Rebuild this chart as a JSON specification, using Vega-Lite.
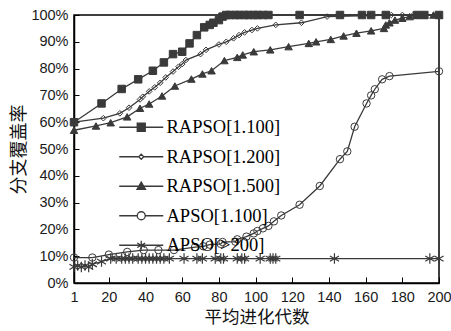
{
  "$schema": "https://vega.github.io/schema/vega-lite/v6.json",
  "width": 365,
  "height": 268,
  "autosize": {"type": "none"},
  "padding": {"left": 74, "top": 15, "right": 12, "bottom": 48},
  "background": "white",
  "config": {
    "view": {"stroke": "black", "strokeWidth": 1.5},
    "axis": {
      "grid": false,
      "domainColor": "black",
      "domainWidth": 1.5,
      "tickColor": "black",
      "tickWidth": 1,
      "labelFont": "Liberation Sans",
      "labelFontSize": 14.5,
      "labelColor": "#1a1a1a",
      "titleFont": "Noto Sans CJK SC",
      "titleFontSize": 18,
      "titleFontWeight": "normal",
      "titleColor": "#111"
    },
    "legend": {
      "orient": "none",
      "legendX": 58,
      "legendY": 103,
      "title": null,
      "padding": 0,
      "labelFont": "Liberation Serif",
      "labelFontSize": 18.5,
      "labelColor": "black",
      "labelLimit": 300,
      "labelOffset": 16,
      "symbolSize": 100,
      "symbolStrokeWidth": 1.3,
      "symbolOpacity": 1,
      "rowPadding": 10.5
    }
  },
  "datasets": {
    "d": [
      {"series": "RAPSO[1.100]", "gen": 1, "cov": 60},
      {"series": "RAPSO[1.100]", "gen": 16, "cov": 67},
      {"series": "RAPSO[1.100]", "gen": 27, "cov": 72.4},
      {"series": "RAPSO[1.100]", "gen": 36, "cov": 76},
      {"series": "RAPSO[1.100]", "gen": 44, "cov": 79.2},
      {"series": "RAPSO[1.100]", "gen": 50, "cov": 82.3},
      {"series": "RAPSO[1.100]", "gen": 55, "cov": 85.4},
      {"series": "RAPSO[1.100]", "gen": 60, "cov": 86.3},
      {"series": "RAPSO[1.100]", "gen": 64, "cov": 89.4},
      {"series": "RAPSO[1.100]", "gen": 68, "cov": 92.5},
      {"series": "RAPSO[1.100]", "gen": 72, "cov": 95.4},
      {"series": "RAPSO[1.100]", "gen": 75, "cov": 96.3},
      {"series": "RAPSO[1.100]", "gen": 77, "cov": 97.1},
      {"series": "RAPSO[1.100]", "gen": 80, "cov": 98.1},
      {"series": "RAPSO[1.100]", "gen": 82, "cov": 99.4},
      {"series": "RAPSO[1.100]", "gen": 84, "cov": 100},
      {"series": "RAPSO[1.100]", "gen": 86, "cov": 100},
      {"series": "RAPSO[1.100]", "gen": 89, "cov": 100},
      {"series": "RAPSO[1.100]", "gen": 91, "cov": 100},
      {"series": "RAPSO[1.100]", "gen": 94, "cov": 100},
      {"series": "RAPSO[1.100]", "gen": 96, "cov": 100},
      {"series": "RAPSO[1.100]", "gen": 99, "cov": 100},
      {"series": "RAPSO[1.100]", "gen": 101, "cov": 100},
      {"series": "RAPSO[1.100]", "gen": 104, "cov": 100},
      {"series": "RAPSO[1.100]", "gen": 107, "cov": 100},
      {"series": "RAPSO[1.100]", "gen": 124, "cov": 100},
      {"series": "RAPSO[1.100]", "gen": 146, "cov": 100},
      {"series": "RAPSO[1.100]", "gen": 158, "cov": 100},
      {"series": "RAPSO[1.100]", "gen": 163, "cov": 100},
      {"series": "RAPSO[1.100]", "gen": 171, "cov": 100},
      {"series": "RAPSO[1.100]", "gen": 188, "cov": 100},
      {"series": "RAPSO[1.100]", "gen": 192, "cov": 100},
      {"series": "RAPSO[1.100]", "gen": 200, "cov": 100},

      {"series": "RAPSO[1.200]", "gen": 1, "cov": 60},
      {"series": "RAPSO[1.200]", "gen": 17, "cov": 61.5},
      {"series": "RAPSO[1.200]", "gen": 26, "cov": 63.3},
      {"series": "RAPSO[1.200]", "gen": 31, "cov": 65.4},
      {"series": "RAPSO[1.200]", "gen": 37, "cov": 68.5},
      {"series": "RAPSO[1.200]", "gen": 38.5, "cov": 69.5},
      {"series": "RAPSO[1.200]", "gen": 42, "cov": 71.5},
      {"series": "RAPSO[1.200]", "gen": 45, "cov": 73},
      {"series": "RAPSO[1.200]", "gen": 48, "cov": 74.7},
      {"series": "RAPSO[1.200]", "gen": 51, "cov": 76.7},
      {"series": "RAPSO[1.200]", "gen": 55, "cov": 78.9},
      {"series": "RAPSO[1.200]", "gen": 58, "cov": 80.7},
      {"series": "RAPSO[1.200]", "gen": 60, "cov": 81.7},
      {"series": "RAPSO[1.200]", "gen": 62, "cov": 83.2},
      {"series": "RAPSO[1.200]", "gen": 70, "cov": 85.4},
      {"series": "RAPSO[1.200]", "gen": 73, "cov": 87},
      {"series": "RAPSO[1.200]", "gen": 80, "cov": 89},
      {"series": "RAPSO[1.200]", "gen": 84, "cov": 90},
      {"series": "RAPSO[1.200]", "gen": 88, "cov": 91.3},
      {"series": "RAPSO[1.200]", "gen": 91, "cov": 92.5},
      {"series": "RAPSO[1.200]", "gen": 94, "cov": 93.5},
      {"series": "RAPSO[1.200]", "gen": 98, "cov": 94.4},
      {"series": "RAPSO[1.200]", "gen": 101, "cov": 95},
      {"series": "RAPSO[1.200]", "gen": 111, "cov": 96.3},
      {"series": "RAPSO[1.200]", "gen": 125, "cov": 97.1},
      {"series": "RAPSO[1.200]", "gen": 139, "cov": 99.4},
      {"series": "RAPSO[1.200]", "gen": 174, "cov": 100},
      {"series": "RAPSO[1.200]", "gen": 180, "cov": 100},
      {"series": "RAPSO[1.200]", "gen": 186, "cov": 100},
      {"series": "RAPSO[1.200]", "gen": 200, "cov": 100},

      {"series": "RAPSO[1.500]", "gen": 1, "cov": 57},
      {"series": "RAPSO[1.500]", "gen": 13, "cov": 58.6},
      {"series": "RAPSO[1.500]", "gen": 21, "cov": 59.8},
      {"series": "RAPSO[1.500]", "gen": 30, "cov": 62},
      {"series": "RAPSO[1.500]", "gen": 37, "cov": 65.2},
      {"series": "RAPSO[1.500]", "gen": 42, "cov": 66.8},
      {"series": "RAPSO[1.500]", "gen": 49, "cov": 69.8},
      {"series": "RAPSO[1.500]", "gen": 56, "cov": 73.5},
      {"series": "RAPSO[1.500]", "gen": 65, "cov": 76.1},
      {"series": "RAPSO[1.500]", "gen": 71, "cov": 78},
      {"series": "RAPSO[1.500]", "gen": 76, "cov": 79.2},
      {"series": "RAPSO[1.500]", "gen": 83, "cov": 83},
      {"series": "RAPSO[1.500]", "gen": 90, "cov": 84.2},
      {"series": "RAPSO[1.500]", "gen": 93, "cov": 85.1},
      {"series": "RAPSO[1.500]", "gen": 99, "cov": 86.3},
      {"series": "RAPSO[1.500]", "gen": 108, "cov": 87},
      {"series": "RAPSO[1.500]", "gen": 118, "cov": 88.2},
      {"series": "RAPSO[1.500]", "gen": 129, "cov": 89.4},
      {"series": "RAPSO[1.500]", "gen": 133, "cov": 90},
      {"series": "RAPSO[1.500]", "gen": 141, "cov": 90.9},
      {"series": "RAPSO[1.500]", "gen": 148, "cov": 92.2},
      {"series": "RAPSO[1.500]", "gen": 155, "cov": 93.2},
      {"series": "RAPSO[1.500]", "gen": 163, "cov": 94.1},
      {"series": "RAPSO[1.500]", "gen": 170, "cov": 95},
      {"series": "RAPSO[1.500]", "gen": 171, "cov": 96.3},
      {"series": "RAPSO[1.500]", "gen": 173, "cov": 97.1},
      {"series": "RAPSO[1.500]", "gen": 176, "cov": 98.1},
      {"series": "RAPSO[1.500]", "gen": 180, "cov": 98.8},
      {"series": "RAPSO[1.500]", "gen": 184, "cov": 99.4},
      {"series": "RAPSO[1.500]", "gen": 188, "cov": 100},
      {"series": "RAPSO[1.500]", "gen": 192, "cov": 100},
      {"series": "RAPSO[1.500]", "gen": 197, "cov": 100},
      {"series": "RAPSO[1.500]", "gen": 200, "cov": 100},

      {"series": "APSO[1.100]", "gen": 1, "cov": 9.5},
      {"series": "APSO[1.100]", "gen": 11, "cov": 9.5},
      {"series": "APSO[1.100]", "gen": 20, "cov": 10.6},
      {"series": "APSO[1.100]", "gen": 30, "cov": 11.6},
      {"series": "APSO[1.100]", "gen": 39, "cov": 12.3},
      {"series": "APSO[1.100]", "gen": 47, "cov": 12.3},
      {"series": "APSO[1.100]", "gen": 55.5, "cov": 12.3},
      {"series": "APSO[1.100]", "gen": 67, "cov": 13.4},
      {"series": "APSO[1.100]", "gen": 71.5, "cov": 13.7},
      {"series": "APSO[1.100]", "gen": 75, "cov": 14.3},
      {"series": "APSO[1.100]", "gen": 81, "cov": 14.6},
      {"series": "APSO[1.100]", "gen": 82, "cov": 15.3},
      {"series": "APSO[1.100]", "gen": 89, "cov": 15.4},
      {"series": "APSO[1.100]", "gen": 90, "cov": 16.3},
      {"series": "APSO[1.100]", "gen": 95, "cov": 17.3},
      {"series": "APSO[1.100]", "gen": 99, "cov": 18.5},
      {"series": "APSO[1.100]", "gen": 101, "cov": 19.4},
      {"series": "APSO[1.100]", "gen": 104, "cov": 20.4},
      {"series": "APSO[1.100]", "gen": 107, "cov": 21.3},
      {"series": "APSO[1.100]", "gen": 110, "cov": 23},
      {"series": "APSO[1.100]", "gen": 114, "cov": 25.2},
      {"series": "APSO[1.100]", "gen": 124, "cov": 29.2},
      {"series": "APSO[1.100]", "gen": 135, "cov": 36.2},
      {"series": "APSO[1.100]", "gen": 146, "cov": 46.2},
      {"series": "APSO[1.100]", "gen": 150, "cov": 49.1},
      {"series": "APSO[1.100]", "gen": 154, "cov": 58.3},
      {"series": "APSO[1.100]", "gen": 160.5, "cov": 67},
      {"series": "APSO[1.100]", "gen": 163, "cov": 70},
      {"series": "APSO[1.100]", "gen": 165, "cov": 72.3},
      {"series": "APSO[1.100]", "gen": 169, "cov": 76},
      {"series": "APSO[1.100]", "gen": 173, "cov": 77.2},
      {"series": "APSO[1.100]", "gen": 200, "cov": 79},

      {"series": "APSO[>200]", "gen": 1, "cov": 6},
      {"series": "APSO[>200]", "gen": 3, "cov": 6.5},
      {"series": "APSO[>200]", "gen": 5, "cov": 6},
      {"series": "APSO[>200]", "gen": 7, "cov": 6.5},
      {"series": "APSO[>200]", "gen": 9, "cov": 6},
      {"series": "APSO[>200]", "gen": 11, "cov": 7},
      {"series": "APSO[>200]", "gen": 16, "cov": 8},
      {"series": "APSO[>200]", "gen": 21, "cov": 9.1},
      {"series": "APSO[>200]", "gen": 24, "cov": 9.1},
      {"series": "APSO[>200]", "gen": 27, "cov": 9.1},
      {"series": "APSO[>200]", "gen": 29, "cov": 9.1},
      {"series": "APSO[>200]", "gen": 31, "cov": 9.1},
      {"series": "APSO[>200]", "gen": 33, "cov": 9.1},
      {"series": "APSO[>200]", "gen": 36, "cov": 9.1},
      {"series": "APSO[>200]", "gen": 38, "cov": 9.1},
      {"series": "APSO[>200]", "gen": 40, "cov": 9.1},
      {"series": "APSO[>200]", "gen": 42, "cov": 9.1},
      {"series": "APSO[>200]", "gen": 44, "cov": 9.1},
      {"series": "APSO[>200]", "gen": 46, "cov": 9.1},
      {"series": "APSO[>200]", "gen": 48, "cov": 9.1},
      {"series": "APSO[>200]", "gen": 50, "cov": 9.1},
      {"series": "APSO[>200]", "gen": 53, "cov": 9.1},
      {"series": "APSO[>200]", "gen": 61, "cov": 9.1},
      {"series": "APSO[>200]", "gen": 68, "cov": 9.1},
      {"series": "APSO[>200]", "gen": 71, "cov": 9.1},
      {"series": "APSO[>200]", "gen": 78, "cov": 9.1},
      {"series": "APSO[>200]", "gen": 81, "cov": 9.1},
      {"series": "APSO[>200]", "gen": 82.5, "cov": 9.1},
      {"series": "APSO[>200]", "gen": 90, "cov": 9.1},
      {"series": "APSO[>200]", "gen": 92.5, "cov": 9.1},
      {"series": "APSO[>200]", "gen": 94, "cov": 9.1},
      {"series": "APSO[>200]", "gen": 102.5, "cov": 9.1},
      {"series": "APSO[>200]", "gen": 108, "cov": 9.1},
      {"series": "APSO[>200]", "gen": 109.5, "cov": 9.1},
      {"series": "APSO[>200]", "gen": 111, "cov": 9.1},
      {"series": "APSO[>200]", "gen": 143, "cov": 9.1},
      {"series": "APSO[>200]", "gen": 195, "cov": 9.1},
      {"series": "APSO[>200]", "gen": 200, "cov": 9.1}
    ]
  },
  "data": {"name": "d"},
  "encoding": {
    "x": {
      "field": "gen",
      "type": "quantitative",
      "scale": {"domain": [1, 200], "nice": false, "zero": false},
      "axis": {
        "values": [1, 20, 40, 60, 80, 100, 120, 140, 160, 180, 200],
        "tickSize": -6,
        "labelPadding": 13,
        "labelFlush": false,
        "labelOverlap": false,
        "title": "平均进化代数",
        "titleFontSize": 17.5,
        "titlePadding": 5
      }
    },
    "y": {
      "field": "cov",
      "type": "quantitative",
      "scale": {"domain": [0, 100], "nice": false},
      "axis": {
        "values": [0, 10, 20, 30, 40, 50, 60, 70, 80, 90, 100],
        "labelExpr": "datum.value + '%'",
        "labelFlush": false,
        "labelOverlap": false,
        "tickSize": -5,
        "labelPadding": 11,
        "title": "分支覆盖率",
        "titlePadding": 2
      }
    }
  },
  "layer": [
    {
      "mark": {"type": "line", "color": "#3a3a3a", "strokeWidth": 1.3},
      "encoding": {
        "detail": {"field": "series"},
        "order": {"field": "gen"}
      }
    },
    {
      "transform": [{"filter": "datum.series === 'RAPSO[1.100]'"}],
      "mark": {"type": "point", "shape": "square", "filled": true, "fill": "#3a3a3a", "stroke": "#3a3a3a", "strokeWidth": 1, "size": 56, "opacity": 1}
    },
    {
      "transform": [{"filter": "datum.series === 'RAPSO[1.200]'"}],
      "mark": {"type": "point", "shape": "diamond", "fill": "transparent", "stroke": "#3a3a3a", "strokeWidth": 1, "size": 32, "opacity": 1}
    },
    {
      "transform": [{"filter": "datum.series === 'RAPSO[1.500]'"}],
      "mark": {"type": "point", "shape": "triangle-up", "filled": true, "fill": "#3a3a3a", "stroke": "#3a3a3a", "strokeWidth": 1, "size": 56, "opacity": 1}
    },
    {
      "transform": [{"filter": "datum.series === 'APSO[1.100]'"}],
      "mark": {"type": "point", "shape": "circle", "fill": "transparent", "stroke": "#3a3a3a", "strokeWidth": 1, "size": 55, "opacity": 1}
    },
    {
      "transform": [{"filter": "datum.series === 'APSO[>200]'"}],
      "mark": {"type": "point", "shape": "M0,-1V1M-0.87,-0.5L0.87,0.5M-0.87,0.5L0.87,-0.5", "fill": "transparent", "stroke": "#3a3a3a", "strokeWidth": 1.2, "size": 110, "opacity": 1}
    },
    {
      "transform": [{"filter": "datum.gen < 0"}],
      "mark": {"type": "point", "strokeWidth": 1.3, "opacity": 1},
      "encoding": {
        "shape": {
          "field": "series",
          "type": "nominal",
          "scale": {
            "domain": ["RAPSO[1.100]", "RAPSO[1.200]", "RAPSO[1.500]", "APSO[1.100]", "APSO[>200]"],
            "range": [
              "M-4.4,0H4.4M-0.8,-0.8H0.8V0.8H-0.8Z",
              "M-4.4,0H-0.5M0.5,0H4.4M0,-0.5L0.5,0L0,0.5L-0.5,0Z",
              "M-4.4,0H4.4M0,-0.85L0.85,0.6H-0.85Z",
              "M-4.4,0H-0.8M0.8,0H4.4M0.8,0A0.8,0.8,0,1,1,-0.8,0A0.8,0.8,0,1,1,0.8,0",
              "M-4.4,0H4.4M0,-0.9V0.9M-0.8,-0.45L0.8,0.45M-0.8,0.45L0.8,-0.45"
            ]
          },
          "legend": {"title": null}
        },
        "fill": {
          "field": "series",
          "type": "nominal",
          "scale": {
            "domain": ["RAPSO[1.100]", "RAPSO[1.200]", "RAPSO[1.500]", "APSO[1.100]", "APSO[>200]"],
            "range": ["#3a3a3a", "white", "#3a3a3a", "white", "white"]
          },
          "legend": {"title": null}
        },
        "stroke": {
          "field": "series",
          "type": "nominal",
          "scale": {
            "domain": ["RAPSO[1.100]", "RAPSO[1.200]", "RAPSO[1.500]", "APSO[1.100]", "APSO[>200]"],
            "range": ["#3a3a3a", "#3a3a3a", "#3a3a3a", "#3a3a3a", "#3a3a3a"]
          },
          "legend": {"title": null}
        }
      }
    }
  ]
}
